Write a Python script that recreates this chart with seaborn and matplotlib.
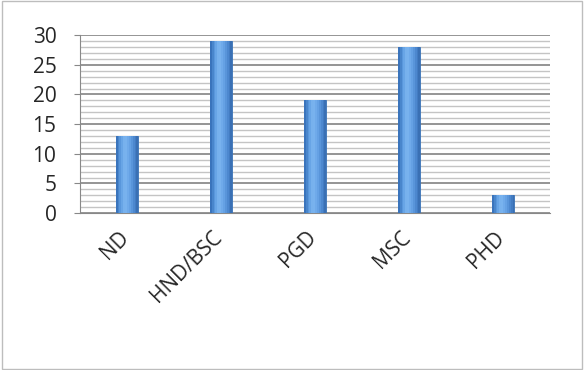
import matplotlib
matplotlib.use('Agg')
import matplotlib.pyplot as plt
import matplotlib.transforms as mtransforms
import numpy as np
import pandas as pd
import seaborn as sns
from matplotlib.patches import Rectangle
from matplotlib.colors import LinearSegmentedColormap

categories = ['ND', 'HND/BSC', 'PGD', 'MSC', 'PHD']
counts = [13, 29, 19, 28, 3]
y_ticks = [0, 5, 10, 15, 20, 25, 30]

df = pd.DataFrame({'level': categories, 'count': counts})

sns.set_style('white')
plt.rcParams['font.family'] = ['Open Sans', 'DejaVu Sans']

fig = plt.figure(figsize=(5.84, 3.70), dpi=100)
ax = fig.add_axes([0.137, 0.424, 0.805, 0.481])

# minor and major horizontal gridlines like the excel wall
for v in range(0, 31):
    if v % 5 == 0:
        ax.axhline(v, color='#8c8c8c', lw=1.3, zorder=0)
    else:
        ax.axhline(v, color='#c4c4c4', lw=1.0, zorder=0)

sns.barplot(data=df, x='level', y='count', color='#4a8ad4', width=0.24,
            edgecolor='#3a72b5', linewidth=0.6, saturation=1, ax=ax, zorder=3)

# cylinder-ish shading: darker edges, light band left of centre
shade = LinearSegmentedColormap.from_list(
    'cyl', ['#3a74bc', '#5c9be0', '#7db6f0', '#6aa6e8', '#4f8bd2', '#3a70b4'])
n = 12
for p in list(ax.patches):
    x0, w, h = p.get_x(), p.get_width(), p.get_height()
    for i in range(n):
        ax.add_patch(Rectangle((x0 + w * i / n, 0), w / n, h,
                               color=shade(i / (n - 1)), lw=0, zorder=4))

ax.set_ylim(0, 30)
ax.set_yticks(y_ticks)
ax.set_xlim(-0.5, 4.5)
ax.set_xlabel('')
ax.set_ylabel('')
ax.tick_params(axis='y', labelsize=15, length=4, color='#888888', pad=13, left=True)
ax.tick_params(axis='x', length=0, pad=10)
shift = mtransforms.ScaledTranslation(-0.09, 0.0, fig.dpi_scale_trans)
for lab in ax.get_xticklabels():
    lab.set_rotation(45)
    lab.set_ha('right')
    lab.set_rotation_mode('anchor')
    lab.set_fontsize(15)
    lab.set_transform(lab.get_transform() + shift)

for s in ['top', 'right']:
    ax.spines[s].set_visible(False)
ax.spines['left'].set_color('#888888')
ax.spines['bottom'].set_color('#888888')

fig.patches.append(Rectangle((0.003, 0.004), 0.994, 0.992, transform=fig.transFigure,
                             fill=False, edgecolor='#bdbdbd', lw=1))

fig.savefig('out.png', dpi=100)
